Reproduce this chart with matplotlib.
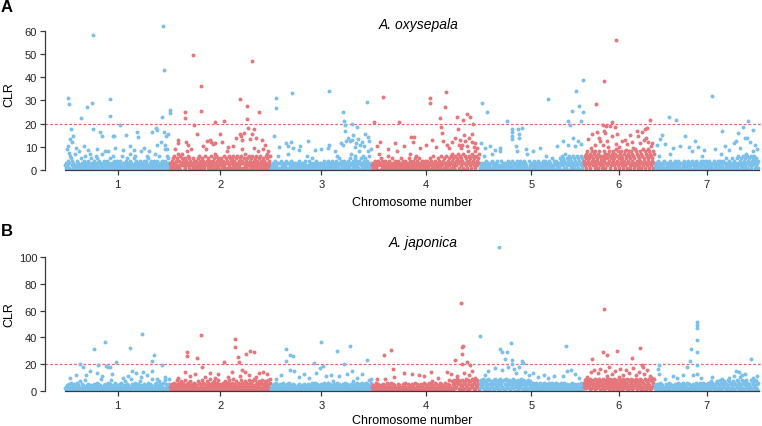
import numpy as np
import matplotlib.pyplot as plt

plt.rcParams['font.family'] = ['Liberation Sans', 'DejaVu Sans']

chrom_names = ['1', '2', '3', '4', '5', '6', '7']
chrom_len = [45.3, 43.4, 43.6, 46.4, 44.9, 30.6, 45.0]  # Mb
threshold = 20

# background CLR values on an even grid along each chromosome, one digit per grid point
oxy_band = [
    "21302143160524131027012413282153102413612021431725"
    "31204123613521402312713241023148231250132641230142"
    "12031420613201243152312741302152631402130241382314"
    "20143621502314210324713204216031204123194213625132",
    "32143526130425172416023574203152438621534920351423"
    "14230516243102534126394215324106231452371642513204"
    "25130426135084316250413526140325163042513694130527"
    "41352063142536104253162483152643015234126357214362",
    "10213021402130160314021032102413070132140213012031"
    "20130241021302130420160214012031520130214031201302"
    "13021403120214031203142013021463120531402130241302"
    "21403125730214326514203184035213624150321483261302",
    "21302431203427302514203124021362413025130241328143"
    "02135204130241302153742130241536214302513204213042"
    "31402130524130621403125304213620415302631405236147"
    "25316042537140625341736052418364251736425183642537",
    "10213021362140213012031472130213024012081402130213"
    "02130412031240213021384120314021302140312071402130"
    "12031420130214031203142031462130214031205214302413"
    "20315240362514731524036251402635142036251403625142",
    "43625173846251736482547318264517382645136284517362"
    "57384615273846251739462815374862513748265137486251"
    "38472615392847163528471639254817362549183726451837",
    "20130214621302130240130213021473120213041203140213"
    "01302140312031402130284031203140213021436214031204"
    "13021403120314021302143021473120413025130214031253"
    "02143025136024315026314257361425036142583614253041",
]

# elevated points: (position in % of chromosome, CLR)
oxy_peaks = [
    [(3.1,30.9),(4.1,28.5),(5.7,17.7),(7.9,14.8),(4.8,13.4),(6.2,12),(2.9,10.5),(1.9,9),(3.8,7.5),
     (15.2,22.4),(21.2,27),(25.4,28.8),(27,58.3),(26.4,17.7),(33.3,16.3),(34.8,14.8),(42.9,30.6),
     (43.3,23.2),(45.4,14.8),(47,14.5),(52.4,19.4),(58.1,15.2),(68.9,16.3),(69.2,14.1),(82.6,16.3),
     (86.7,18),(87.6,17.3),(92.1,23),(93.6,62),(93.8,43.2),(94.6,16.3),(96.2,14.8),(98,15.5),
     (99.5,25.9),(99.8,24.5),(10,9.5),(18,10.2),(22,8.6),(30,9),(38,8.2),(48,9.5),(55,8.5),
     (62,10.5),(66,8.8),(75,9.6),(80,8.4),(88,10.8),(91,12),(95,11),(97,9)],
    [(14.9,24.9),(15.2,22.4),(23.1,49.6),(23.4,19.6),(27.1,15.5),(30.8,36.4),(31.1,25.3),
     (36.4,12.4),(44.7,20.9),(49.7,15.5),(53.6,21),(69.5,30.6),(76.2,27.8),(76.5,22),(81.1,46.9),
     (77.5,18),(83.4,17.5),(88.6,24.9),(81.4,15.5),(85.4,14),(91.4,13),(94.3,11),(7.6,13.1),
     (8,11.5),(15.6,12),(41,12),(42.5,11.4),(69.5,15.5),(70.5,14.6),(5,9),(18,11),(33,10.5),
     (40,13),(45,11.5),(52,12),(58,9.8),(63,10.5),(66,14),(72,12.8),(74,16),(79,13.5),(83,9.5),
     (92,9.2),(97,8.4)],
    [(5,30.9),(5.2,26.6),(3.3,14.5),(20.8,33.1),(58,34.1),(71.3,25.2),(72.9,21.3),(73.2,19.4),
     (73.5,17),(80.8,19.9),(85.1,18.4),(95.6,29.5),(95.9,14.1),(81.5,15),(76.5,14),(86.5,13.2),
     (90.5,12),(93.4,15.5),(97.3,12.5),(15,11.5),(17,10.2),(20,12.2),(29,10.2),(37,12.6),
     (58,11),(72,11),(75,12.5),(80,12.8),(84,11.6),(88,10.8),(8,10),(22,9.5),(28,8.6),(44,8.8),
     (50,9),(57,9.6),(64,8.4),(70,11.5),(78,12.5),(83,10),(92,10.2),(99,9)],
    [(2.1,20.6),(10.8,31.6),(25.4,20.6),(36.5,14.4),(39.3,14.4),(54.2,31.1),(54.5,28.8),
     (63.5,22.4),(69.1,33.8),(68.1,27.3),(64.4,18.4),(65.6,16),(79,22.7),(80.2,17.5),
     (85.1,21.7),(88.8,24.2),(91.4,22.7),(94.4,19.9),(92.9,15.5),(75,12),(77,14),(82,13),
     (84,11),(86,15.3),(87,12.5),(89,10.5),(90,13.6),(93,12),(95,10),(96,11.5),(98,9.6),
     (83,9.5),(81,10.8),(5,10.4),(8,12),(15,9),(22,11.6),(30,10.5),(38,12),(45,9.5),(50,11),
     (56,13),(60,10),(66,12.5),(70,11),(72,9.4)],
    [(2.3,28.8),(7.7,24.9),(1.3,11.5),(26.3,21.3),(31.2,17.7),(31.4,16.2),(31.6,14.7),
     (31.8,13.2),(37.5,17.7),(37.7,15.5),(37.9,14),(41.3,18),(66.3,30.6),(85.6,21.3),
     (87.2,19.4),(88.8,25.6),(93,34),(96.2,27.8),(99.4,38.8),(99.7,24.9),(97.8,21.3),(5,9.5),
     (10,10.2),(15,8.5),(20,9.4),(35,10.5),(45,9),(52,8.4),(58,9.6),(75,10.3),(80,12.5),
     (85,11),(90,14),(92,10.5),(95,12.4),(98,11.2)],
    [(29.6,38.3),(17.5,28.4),(45.6,56.2),(40,20.6),(32,19),(27.7,19.4),(18.9,16.3),(93.9,21.6),
     (86.9,17.7),(89.7,18.2),(7,13.4),(12,15.5),(16,11),(22,14),(23,12.5),(29,17),(30,15.8),
     (33,12.6),(35,9.9),(37,19.1),(40.5,14.8),(44,18.4),(46,11.4),(50,10),(54,12.4),(58,13),
     (62,11.2),(66,15),(68,12),(70,9.6),(75,17),(77,14.5),(80,11.6),(83,16.3),(85,13),(88,14),
     (91,12),(95,10.5),(97,11.8),(60,8.6),(48,15.6),(27,10.8),(10,9.5)],
    [(14.4,23),(20.5,21.6),(55.6,31.8),(64.6,16.7),(90,21),(84.7,18.7),(94.8,17.4),(80.2,16),
     (86.9,14),(88.8,13.6),(7.4,15),(5.5,13.5),(29.7,14.5),(39,12.4),(3,10.6),(10,11.2),
     (18,9.4),(25,10.3),(33,9.8),(42,10),(48,8.6),(58,9.2),(68,10.4),(72,8.8),(76,11.5),
     (78,12.4),(82,9.6),(92,12),(96,10.8),(98,9)],
]

jap_band = [
    "21304215320631420513206241302715240312830415231024"
    "13205241036215304129301425302416230518320413620314"
    "02413526031420713250413029315240613204152307142031"
    "52031406213520419302516340213750241306281524032150",
    "31425036142503814260371452603814250361427035142603"
    "52413706251430826153047216350941625370415263081452"
    "40316250734152608315240639152407326150431826350417"
    "26351408263571402938150624371560284135072614385160",
    "21304151302614203152403162041302513602413025140312"
    "13024150312140235140312150241306215402613502413102"
    "51402631502416305214027315024163025140312150241630"
    "25140312150247130524160312514036215304261503824163",
    "31420136142502314210351420136152403612250413120251"
    "42031205241360225143012315340621153042231534012615"
    "30421163052712430625113024261530214163022518430127"
    "51846273958162740385162749305816274938516207483516",
    "62847395162847305918264730518294637205819463728051"
    "94736285017463928507364185273940618527304618253704"
    "41625304162530216243051624305112436051426305142630"
    "52143061524306142530214235061423051224305142630514",
    "63847295846371958264738195426837591846273958164729"
    "58361947285361947285036194725836194728536094172853"
    "69418273659418275364918273650491827365940182736594",
    "24130521403625140312153041263514203114250312640315"
    "20413625140326150421130514203625140326150426315042"
    "13625041736251403627150438261504372615048372615043"
    "72615048372615403826150472836154038271650438271560",
]

jap_peaks = [
    [(14.3,20),(17.4,17.5),(27.9,31.3),(31.1,19.5),(38.1,36.3),(39,18.5),(41,18),(42.9,17.8),
     (48.3,21.3),(61.9,31.8),(64.1,15),(73.6,42.5),(82.6,22.5),(84.8,27),(92.1,19.3),(82.9,15),
     (74.6,13.7),(5,9.5),(10,11.8),(20,12),(24,14.5),(30,13),(35,10.8),(45,12.5),(55,9.6),
     (60,11),(68,13.2),(72,10.2),(78,12),(88,9),(95,10.5),(99,8.4)],
    [(16.6,26),(16.9,28.8),(26.5,24.5),(30.5,41.8),(31.4,17.5),(53.6,21.3),(64.5,38.8),
     (64.8,33),(67.2,25),(68.5,21.7),(75.2,27.5),(79.4,30),(83.4,28.8),(92.1,14.3),(96.1,12.5),
     (74.5,14),(8,9.5),(15,14.2),(20,11),(25,12.6),(35,10.4),(40,13),(45,9.8),(48,12.2),
     (58,10.5),(62,14),(70,11.2),(72,15.8),(78,12),(85,10.6),(88,13.4),(99,9)],
    [(14.9,31.3),(15.1,22),(19.1,26.5),(22.4,26),(19.4,15.5),(23,15),(43.2,20.5),(49.8,36.7),
     (48.8,17),(51.8,18.2),(65.3,29.5),(72.9,20),(78.5,33.3),(95.6,23.2),(80.5,15),(75.2,12.5),
     (5,9),(10,11.4),(28,10),(33,12.5),(38,9.4),(45,13),(55,10.8),(60,12),(68,11),(85,9.5),
     (90,12.6),(99,8.6)],
    [(11.7,26.8),(17.7,30.5),(20.1,16),(20.4,10.5),(82.7,65.5),(83.6,32.5),(84.4,33.5),
     (83.9,27.5),(77.4,23),(88.8,21.7),(84,20),(91.4,19),(30,13),(37,12.5),(44,12),(49,11),
     (55,13.8),(70,14),(74,12.5),(79,10.8),(86,13.2),(90,11.5),(93,14.6),(96,9.5),(5,9),
     (12,8.4),(62,9.6)],
    [(0.7,40.8),(19.2,107.5),(19.9,31.3),(21.5,28.8),(26.3,28.8),(30.2,35.5),(31.4,23),
     (31.7,20),(41.1,22),(41.7,21),(24.7,24),(83.4,33.7),(84,15),(88.2,15.7),(5,12),(8,14.5),
     (15,17),(22,15.5),(28,18),(33,16),(35,13),(38,17.5),(44,14),(48,11.5),(52,13.4),(56,10.2),
     (62,12),(66,9.6),(72,10.8),(80,11.2),(92,12.8),(96,9.8)],
    [(29.6,61.2),(11.8,23.8),(27.3,28.8),(33.8,26.8),(47,29.5),(68.2,24.5),(79.9,32),
     (82.7,19.3),(84.1,18),(5,10.5),(10,14),(15,15.2),(20,13.5),(24,16.5),(30,15),(36,17.5),
     (40,12.8),(45,14.4),(52,16),(56,12),(60,15.5),(64,13.4),(70,16.8),(74,11.5),(78,14.2),
     (86,12.6),(90,15.2),(94,10.8),(97,9.4),(33,11),(50,10.2)],
    [(3.8,16),(4.1,12.5),(4,19),(31,17.5),(34.2,22),(34.9,31.3),(40.6,51.7),(40.7,49.2),
     (40.8,46.8),(40.9,38),(41,28.8),(41.1,19.5),(41.2,12.5),(78.3,14.5),(80.7,13.8),
     (86.9,12.5),(92.3,23.8),(10,9),(18,10.8),(22,9.5),(27,11.5),(37,12),(45,9.2),(55,10),
     (65,8.6),(72,9.4),(76,11),(82,10.4),(84,12),(95,9.6),(98,10.8)],
]

blue = '#7BC0EA'
red = '#E5767B'
axis_col = '#3a3a3a'

starts = np.concatenate([[0], np.cumsum(chrom_len)[:-1]])
total = sum(chrom_len)
mids = starts + np.array(chrom_len) / 2

fig = plt.figure(figsize=(7.62, 4.27), dpi=100)
W, H = 762, 427


def panel(bottom_px, height_px, band, peaks, ymax, yticks, ytop):
    ax = fig.add_axes([45 / W, (H - bottom_px) / H, 717 / W, height_px / H])
    for i in range(7):
        col = blue if i % 2 == 0 else red
        vals = np.array([int(c) for c in band[i]], dtype=float)
        n = len(vals)
        x = starts[i] + chrom_len[i] * (np.arange(n) + 0.5) / n
        ax.scatter(x, vals, s=8, color=col, linewidths=0, zorder=2)
        p = np.array(peaks[i])
        ax.scatter(starts[i] + chrom_len[i] * p[:, 0] / 100, p[:, 1], s=8, color=col,
                   linewidths=0, zorder=2)
    ax.axhline(threshold, color='#E0676C', lw=0.9, ls=(0, (2.2, 1.6)), zorder=1)
    ax.set_xlim(-20 / 693.7 * total, total * (1 + 3.3 / 693.7))
    ax.set_ylim(0, ymax)
    ax.set_yticks(yticks)
    ax.set_xticks(mids)
    ax.set_xticklabels(chrom_names)
    for s in ['top', 'right']:
        ax.spines[s].set_visible(False)
    ax.spines['left'].set_bounds(0, ytop)
    ax.spines['bottom'].set_bounds(0, total)
    for s in ['left', 'bottom']:
        ax.spines[s].set_color(axis_col)
        ax.spines[s].set_linewidth(0.9)
    ax.tick_params(direction='out', length=3.6, width=0.9, color=axis_col,
                   labelsize=8, labelcolor='#222222', pad=2)
    ax.tick_params(axis='x', pad=3)
    return ax


panel(171, 146, oxy_band, oxy_peaks, 63.0, [0, 10, 20, 30, 40, 50, 60], 60)
panel(391.7, 144.7, jap_band, jap_peaks, 108.5, [0, 20, 40, 60, 80, 100], 100)

fig.text(1 / W, 1 - 0 / H, 'A', fontsize=12, fontweight='bold', va='top', ha='left')
fig.text(1 / W, 1 - 224 / H, 'B', fontsize=12, fontweight='bold', va='top', ha='left')
fig.text(419 / W, 1 - 25 / H, 'A. oxysepala', fontsize=10, style='italic', ha='center', va='center')
fig.text(423 / W, 1 - 243 / H, 'A. japonica', fontsize=10, style='italic', ha='center', va='center')
fig.text(9 / W, 1 - 95 / H, 'CLR', fontsize=9, rotation=90, ha='center', va='center')
fig.text(9 / W, 1 - 315 / H, 'CLR', fontsize=9, rotation=90, ha='center', va='center')
fig.text(412 / W, 1 - 203 / H, 'Chromosome number', fontsize=9, ha='center', va='center')
fig.text(412 / W, 1 - 421.5 / H, 'Chromosome number', fontsize=9, ha='center', va='center')

fig.savefig('out.png', dpi=100)
